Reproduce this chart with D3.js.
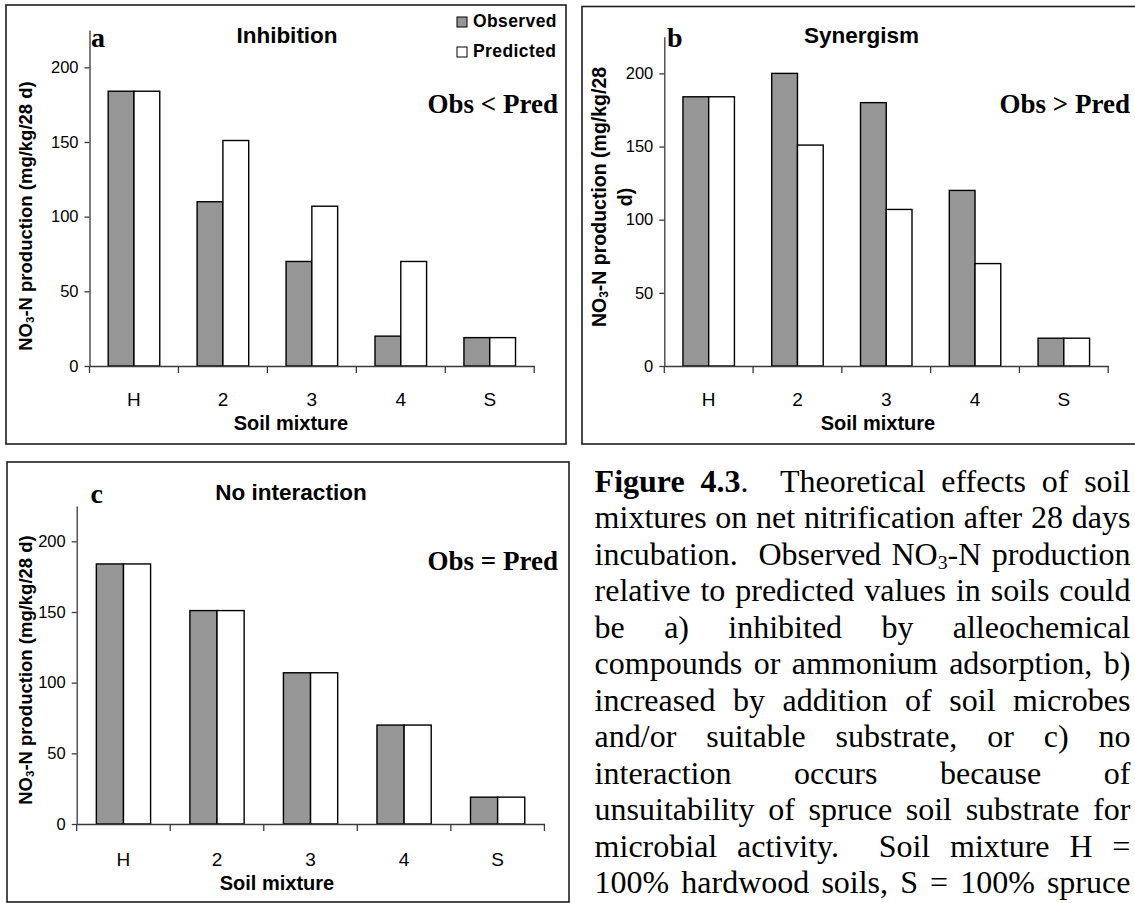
<!DOCTYPE html>
<html><head><meta charset="utf-8">
<script src="https://cdn.jsdelivr.net/npm/d3@7"></script>
<style>
body{margin:0;background:#fff;}
svg{display:block;}
</style></head><body>
<svg id="fig" width="1135" height="903"></svg>
<script>
// Net nitrification after 28 days: observed vs predicted NO3-N by soil mixture
const categories = ["H", "2", "3", "4", "S"];
const seriesNames = ["Observed", "Predicted"];
const predicted = [184, 151, 107, 70, 19];
const observedInhibition = [184, 110, 70, 20, 19];
const observedSynergism = [184, 200, 180, 120, 19];
const observedNoInteraction = [184, 151, 107, 70, 19];
const yTicks = [0, 50, 100, 150, 200];
const yMax = 225;
const panelLetters = ["a", "b", "c"];
const panelTitles = ["Inhibition", "Synergism", "No interaction"];
const relationLabels = ["Obs < Pred", "Obs > Pred", "Obs = Pred"];
const xTitle = "Soil mixture";
const yTitleLines = [["NO_3-N production (mg/kg/28 d)"], ["NO_3-N production (mg/kg/28", "d)"], ["NO_3-N production (mg/kg/28 d)"]];
const captionLines = [
  "**Figure** **4.3**.  Theoretical effects of soil",
  "mixtures on net nitrification after 28 days",
  "incubation.  Observed NO_3-N production",
  "relative to predicted values in soils could",
  "be a) inhibited by alleochemical",
  "compounds or ammonium adsorption, b)",
  "increased by addition of soil microbes",
  "and/or suitable substrate, or c) no",
  "interaction occurs because of",
  "unsuitability of spruce soil substrate for",
  "microbial activity.  Soil mixture H =",
  "100% hardwood soils, S = 100% spruce"
];

const SANS = "'Liberation Sans', Arial, sans-serif";
const SERIF = "'Liberation Serif', 'Times New Roman', serif";
const OBS_FILL = "#969696";
const AXIS_COLOR = "#3a3a3a";

// Panel geometry
const panels = [
  { obs: observedInhibition, frame: [6, 5, 566, 444], px: [89.5, 534.2], py: [366, 30],
    letter: [91, 46.5], title: [287, 43], rel: [558, 113], xt: [291, 430], catY: 406,
    yt: { x: 32, y: 216, size: 18.5, gap: 0 }, legend: true },
  { obs: observedSynergism, frame: [582, 6.5, 1142, 444], px: [664.3, 1108.2], py: [366, 36.8],
    letter: [667, 46.5], title: [861.6, 43], rel: [1130, 113], xt: [878, 430], catY: 406,
    yt: { x: 606, y: 197, size: 19.5, gap: 26 }, legend: false },
  { obs: observedNoInteraction, frame: [7, 462, 569, 902], px: [76.7, 544.4], py: [824, 506],
    letter: [90.6, 503], title: [291, 500], rel: [558, 570], xt: [277, 890], catY: 866,
    yt: { x: 32, y: 670, size: 18.5, gap: 0 }, legend: false }
];

const svg = d3.select("#fig");

// Write a string with **bold** and _3 subscript markers into a text element
function fillRich(textSel, str, baseSize) {
  const parts = str.split(/(\*\*[^*]+\*\*|_\d)/).filter(s => s.length);
  const shift = baseSize * 0.12;
  let shifted = false;
  parts.forEach(p => {
    const t = textSel.append("tspan");
    if (p.startsWith("**")) {
      t.text(p.slice(2, -2)).attr("font-weight", "bold");
      if (shifted) { t.attr("dy", -shift); shifted = false; }
    } else if (p.startsWith("_")) {
      t.text(p.slice(1)).attr("font-size", baseSize * 0.62).attr("dy", shift);
      shifted = true;
    } else {
      t.text(p);
      if (shifted) { t.attr("dy", -shift); shifted = false; }
    }
  });
}

panels.forEach((P, i) => {
  const g = svg.append("g");
  const [fx0, fy0, fx1, fy1] = P.frame;
  g.append("rect").attr("x", fx0).attr("y", fy0).attr("width", fx1 - fx0).attr("height", fy1 - fy0)
    .attr("fill", "none").attr("stroke", "#1e1e1e").attr("stroke-width", 1.6);

  const x = d3.scaleBand().domain(categories).range(P.px).paddingInner(0.42).paddingOuter(0.21);
  const xs = d3.scaleBand().domain(seriesNames).range([0, x.bandwidth()]);
  const y = d3.scaleLinear().domain([0, yMax]).range(P.py);

  const rows = categories.map((c, k) => ({ cat: c, vals: [P.obs[k], predicted[k]] }));

  // bars
  const groups = g.append("g").selectAll("g").data(rows).join("g")
    .attr("transform", d => `translate(${x(d.cat)},0)`);
  groups.selectAll("rect").data(d => d.vals.map((v, s) => ({ v, s: seriesNames[s] }))).join("rect")
    .attr("x", d => xs(d.s)).attr("width", xs.bandwidth())
    .attr("y", d => y(d.v)).attr("height", d => y(0) - y(d.v))
    .attr("fill", d => d.s === "Observed" ? OBS_FILL : "#ffffff")
    .attr("stroke", "#000").attr("stroke-width", 1.4);

  // y axis
  const ya = g.append("g").attr("transform", `translate(${P.px[0]},0)`)
    .call(d3.axisLeft(y).tickValues(yTicks).tickSize(5).tickSizeOuter(0).tickPadding(6));
  ya.select(".domain").attr("stroke", AXIS_COLOR).attr("stroke-width", 1.3);
  ya.selectAll(".tick line").attr("stroke", AXIS_COLOR).attr("stroke-width", 1.3);
  ya.selectAll(".tick text").attr("font-family", SANS).attr("font-size", 16.5).attr("fill", "#000");

  // x axis: labels at band centres, tick marks on band boundaries
  const xa = g.append("g").attr("transform", `translate(0,${y(0)})`)
    .call(d3.axisBottom(x).tickSize(0).tickSizeOuter(0));
  xa.select(".domain").attr("stroke", AXIS_COLOR).attr("stroke-width", 1.3);
  xa.selectAll(".tick text").attr("font-family", SANS).attr("font-size", 19).attr("fill", "#000")
    .attr("y", P.catY - y(0)).attr("dy", 0);
  const bounds = d3.range(categories.length + 1).map(k => x.range()[0] + k * x.step());
  xa.selectAll(".bound").data(bounds).join("line").attr("class", "bound")
    .attr("x1", d => d).attr("x2", d => d).attr("y1", 0).attr("y2", 7)
    .attr("stroke", AXIS_COLOR).attr("stroke-width", 1.3);

  // axis titles
  g.append("text").attr("x", P.xt[0]).attr("y", P.xt[1]).attr("text-anchor", "middle")
    .attr("font-family", SANS).attr("font-weight", "bold").attr("font-size", 20).text(xTitle);
  yTitleLines[i].forEach((line, li) => {
    const t = g.append("text")
      .attr("transform", `translate(${P.yt.x + li * P.yt.gap},${P.yt.y}) rotate(-90)`)
      .attr("text-anchor", "middle").attr("font-family", SANS).attr("font-weight", "bold")
      .attr("font-size", P.yt.size);
    fillRich(t, line, P.yt.size);
  });

  // panel letter, title and relation note
  g.append("text").attr("x", P.letter[0]).attr("y", P.letter[1]).attr("font-family", SERIF)
    .attr("font-weight", "bold").attr("font-size", 28).text(panelLetters[i]);
  g.append("text").attr("x", P.title[0]).attr("y", P.title[1]).attr("text-anchor", "middle")
    .attr("font-family", SANS).attr("font-weight", "bold").attr("font-size", 22.5).text(panelTitles[i]);
  g.append("text").attr("x", P.rel[0]).attr("y", P.rel[1]).attr("text-anchor", "end")
    .attr("font-family", SERIF).attr("font-weight", "bold").attr("font-size", 27).text(relationLabels[i]);

  if (P.legend) {
    const lg = g.append("g").selectAll("g").data(seriesNames).join("g")
      .attr("transform", (d, k) => `translate(457,${17 + k * 30})`);
    lg.append("rect").attr("width", 10).attr("height", 10)
      .attr("fill", d => d === "Observed" ? OBS_FILL : "#fff").attr("stroke", "#000").attr("stroke-width", 1);
    lg.append("text").attr("x", 16).attr("y", 10).attr("font-family", SANS).attr("font-weight", "bold")
      .attr("font-size", 17.5).attr("letter-spacing", 0.4).text(d => d);
  }
});

// Caption, fully justified between two margins
const capLeft = 594.6, capRight = 1130.4, capTop = 491.7, capStep = 36.5, capSize = 32;
const cap = svg.append("g").attr("font-family", SERIF).attr("font-size", capSize).attr("fill", "#000");
captionLines.forEach((line, li) => {
  const tokens = line.split(" ");
  const words = [];
  let pending = 0;
  tokens.forEach(tk => {
    if (tk === "") { pending += 1; return; }
    words.push({ str: tk, gapBefore: words.length ? 1 + pending : 0 });
    pending = 0;
  });
  const yb = capTop + li * capStep;
  const nodes = words.map(w => {
    const t = cap.append("text").attr("y", yb);
    fillRich(t, w.str, capSize);
    return t;
  });
  const widths = nodes.map(n => n.node().getComputedTextLength());
  const total = d3.sum(widths);
  const gapUnits = d3.sum(words, w => w.gapBefore);
  const unit = gapUnits ? (capRight - capLeft - total) / gapUnits : 0;
  let cx = capLeft;
  nodes.forEach((n, k) => {
    cx += words[k].gapBefore * unit;
    n.attr("x", cx);
    cx += widths[k];
  });
});
</script>
</body></html>
